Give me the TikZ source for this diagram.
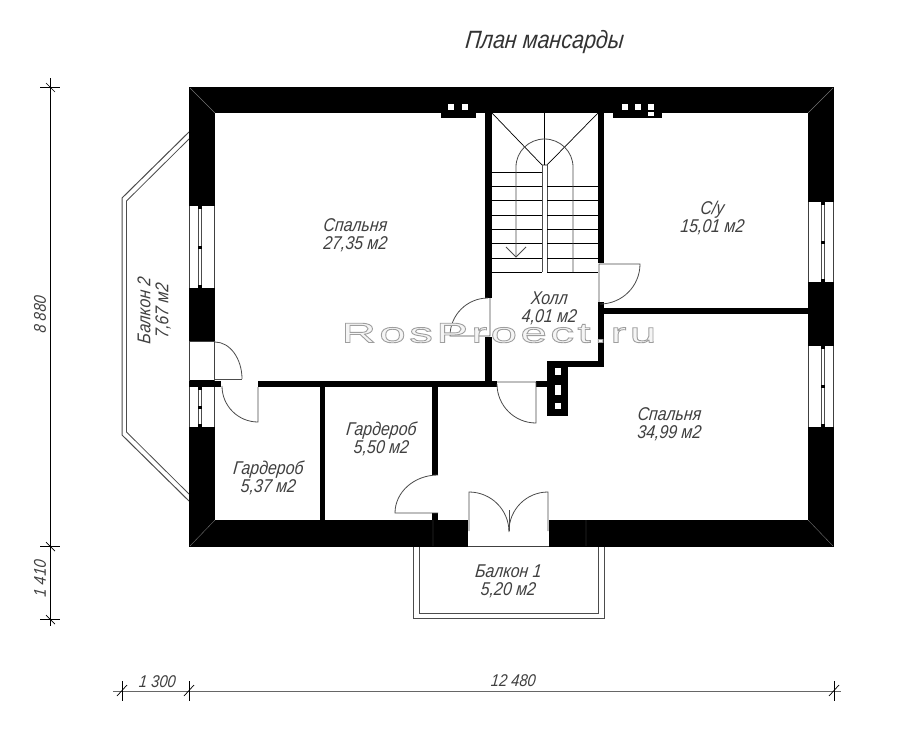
\documentclass[tikz,border=0pt]{standalone}
\usepackage{fontspec}
\setmainfont{Liberation Sans}[FakeStretch=0.86, FakeSlant=0.1]
\newfontfamily\markfont{Liberation Sans}[FakeStretch=1.7, LetterSpace=12]
\usetikzlibrary{calc}

\begin{document}
\begin{tikzpicture}[
    x=1pt, y=1pt, yscale=-1,
    wall/.style={fill=black, draw=none},
    hole/.style={fill=white, draw=none},
    thinline/.style={draw=black!75, line width=0.7pt},
    leaf/.style={draw=black!70, line width=0.8pt},
    stair/.style={draw=black, line width=0.7pt},
    rail/.style={draw=black!70, line width=0.8pt},
    dim/.style={draw=black, line width=0.7pt},
    room/.style={font=\fontsize{18.5}{18}\selectfont\itshape, text=black!75, align=center, inner sep=0pt},
    dimtext/.style={font=\fontsize{17}{17}\selectfont\itshape, text=black!75, inner sep=0pt},
    wmark/.style={font=\markfont\fontsize{28}{28}\selectfont, inner sep=0pt}
]
\useasboundingbox[fill=white] (0,0) rectangle (900,736);

% Balcony 2
\draw[rail, line width=1pt] (189,132) -- (122,198) -- (122,435) -- (189,501);
\draw[rail] (189,139) -- (126.5,201) -- (126.5,432) -- (189,494);

% Balcony 1
\draw[rail, line width=1pt] (413,546) -- (413,618) -- (604,618) -- (604,546);
\draw[rail] (419,546) -- (419,613) -- (598,613) -- (598,546);

% Outer walls
\fill[wall] (189,87) rectangle (834,547);
\fill[hole] (215,113) rectangle (808,520);
\draw[black!55, line width=0.4pt] (190,88) -- (215,113) (833,88) -- (808,113) (190,546) -- (215,520);
\draw[black!55, line width=0.4pt] (833,546) -- (808,520) (433,520) -- (433,546) (586,520) -- (586,546);

% Vents in the top wall
\fill[wall] (441,113) rectangle (476,118);
\fill[wall] (613,113) rectangle (662,118);
\foreach \vx in {448,462,622,635,648}
    \fill[hole] (\vx,104) rectangle ++(6,6);
\fill[hole] (648,112) rectangle ++(6,4);

% Windows
\foreach \wy/\wh in {206/82,387/40} {
    \fill[hole] (190,\wy) rectangle ++(24,\wh);
    \draw[thinline] (189.5,\wy) -- ++(0,\wh) (214.5,\wy) -- ++(0,\wh);
    \draw[rail] (198,\wy) -- ++(0,\wh) (201,\wy) -- ++(0,\wh);
    \foreach \wp in {1.5,\wh/2,\wh-1.5}
        \fill[black] (197.5,\wy+\wp-1.5) rectangle ++(4,3);
}
\foreach \wy/\wh in {202/80,346/81} {
    \fill[hole] (808.5,\wy) rectangle ++(25,\wh);
    \draw[thinline] (808,\wy) -- ++(0,\wh) (833.5,\wy) -- ++(0,\wh);
    \draw[rail] (821,\wy) -- ++(0,\wh) (824,\wy) -- ++(0,\wh);
    \foreach \wp in {1.5,\wh/2,\wh-1.5}
        \fill[black] (820.5,\wy+\wp-1.5) rectangle ++(4,3);
}

% Inner walls
\fill[wall] (189,381) rectangle (221,387);
\fill[wall] (258,381) rectangle (497,387);
\fill[wall] (536,381) rectangle (547,387);
\fill[wall] (485,113) rectangle (492,298);
\fill[wall] (485,337) rectangle (492,384);
\fill[wall] (598,113) rectangle (604,263);
\fill[wall] (598,302) rectangle (604,367);
\fill[wall] (604,308) rectangle (808,314);
\fill[wall] (547,361) rectangle (604,367);
\fill[wall] (320,387) rectangle (325,520);
\fill[wall] (432,387) rectangle (438,475);
\fill[wall] (432,513) rectangle (438,520);

% Chimney block
\fill[wall] (547,361) rectangle (568,416);
\fill[hole] (555,368) rectangle (561,375);
\fill[hole] (555,385) rectangle (561,395);
\fill[hole] (555,403) rectangle (561,409);

% Balcony door opening
\fill[hole] (190,341) rectangle (214,380);
\draw[thinline] (189.5,341) -- (189.5,381) (214.5,341) -- (214.5,381);
\draw[thinline] (189,341) -- (215,341);

% Double door to balcony 1
\fill[hole] (468,520) rectangle (549,546);
\draw[thinline] (468,546) -- (549,546);
\draw[leaf] (469,531) -- (469,492) arc[start angle=-90, end angle=0, radius=40];
\draw[leaf] (548,531) -- (548,492) arc[start angle=-90, end angle=-180, radius=39];
\draw[leaf] (509,510) -- (509,531);

% Doors
\draw[leaf] (215,379) -- (242,379);
\draw[leaf] (215,342) arc[start angle=-90, end angle=0, x radius=27, y radius=37];
\draw[leaf] (258,387) -- (258,422) arc[start angle=90, end angle=180, radius=36];
\draw[leaf] (497,382) -- (536,382) -- (536,423) arc[start angle=90, end angle=180, radius=39];
\draw[leaf] (490,298) -- (490,336) -- (450,336) arc[start angle=180, end angle=270, radius=38];
\draw[leaf] (599,302) -- (599,264) -- (640,264) arc[start angle=0, end angle=90, radius=40];
\draw[leaf] (438,513) -- (395,513) arc[start angle=180, end angle=270, x radius=43, y radius=38];

% Stair
\draw[stair] (492,113) -- (542,165) -- (547,165) -- (598,113);
\draw[stair] (544.5,113) -- (544.5,165);
\draw[rail] (542,165) -- (542,272) (547,165) -- (547,272);
\foreach \sy in {186,200,215,229,243,258,272} {
    \draw[stair] (492,\sy) -- (542,\sy);
    \draw[stair] (547,\sy) -- (598,\sy);
}
\draw[stair] (492,172) -- (542,172);
\draw[rail] (516,257) -- (516,167) arc[start angle=180, end angle=360, x radius=28.5, y radius=28] -- (573,272);
\draw[rail] (506,247) -- (516,257) -- (526,247);

% Dimensions
\draw[dim] (50,78) -- (50,626);
\foreach \dy in {87,546,619} {
    \draw[dim] (40,\dy) -- (60,\dy);
    \draw[dim] (46,\dy-4) -- (55,\dy+5);
}
\draw[dim, draw=black!60] (113,691) -- (841,691);
\foreach \dx in {122,189,834} {
    \draw[dim] (\dx,681) -- (\dx,701);
    \draw[dim] (\dx-5,696) -- (\dx+5,685);
}

% Labels
\node[font=\fontsize{25}{25}\selectfont\itshape, text=black!80, inner sep=0pt] (title) at (544,42) {План мансарды};
\node[room] (bed1) at (355,235) {Спальня\\27,35 м2};
\node[room] (wc) at (712,218) {С/у\\15,01 м2};
\node[room] (hall) at (549,308) {Холл\\4,01 м2};
\node[room] (bed2) at (669,424) {Спальня\\34,99 м2};
\node[room] (ward1) at (381,439) {Гардероб\\5,50 м2};
\node[room] (ward2) at (268,478) {Гардероб\\5,37 м2};
\node[room] (balc1) at (508,581) {Балкон 1\\5,20 м2};
\node[room, rotate=90] (balc2) at (154,311) {Балкон 2\\7,67 м2};
\node[dimtext, rotate=90] (dimh) at (40,315) {8 880};
\node[dimtext, rotate=90] (dimb) at (40,579) {1 410};
\node[dimtext] (dimo) at (157,682) {1 300};
\node[dimtext] (dimw) at (513,681) {12 480};

% Watermark
\node[wmark] (wmark) at (499,333) {\special{pdf:code 2 Tr 0.9 w 0.62 G 0.96 g}RosProect.ru\special{pdf:code 0 Tr 0 g 0 G}};
\end{tikzpicture}
\end{document}
